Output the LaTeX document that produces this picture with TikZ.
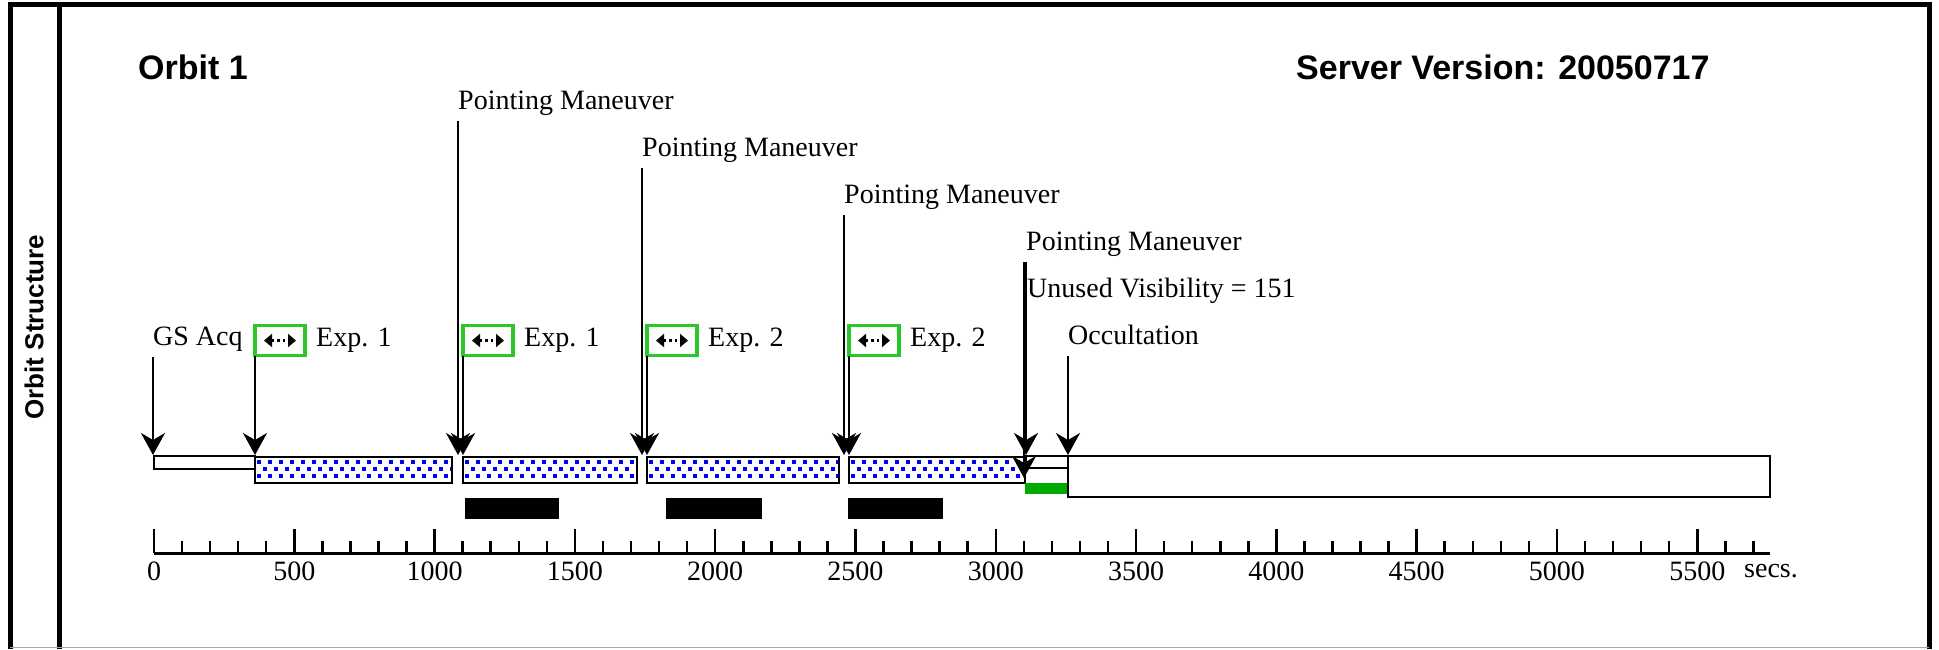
\documentclass[tikz,border=0pt]{standalone}
\usepackage{fontspec}
\setmainfont{Liberation Serif}
\setsansfont{Liberation Sans}
\usetikzlibrary{arrows.meta, positioning}
\definecolor{boxgreen}{RGB}{40,200,40}
\definecolor{occgreen}{RGB}{0,170,0}
\definecolor{dotblue}{RGB}{0,0,255}

% exposure bar: white, blue dot grid, black border (x from #1 to #2)
\newcommand{\expbar}[2]{%
  \fill[white] (#1,457) rectangle (#2,483);
  \begin{scope}
    \clip (#1,457) rectangle (#2,483);
    \foreach \dx in {0,11,...,220} {
      \fill[dotblue] (#1+\dx+2,460) rectangle ++(4.2,4.2);
      \fill[dotblue] (#1+\dx+7.5,467) rectangle ++(4.2,4.2);
      \fill[dotblue] (#1+\dx+2,474) rectangle ++(4.2,4.2);
    }
  \end{scope}
  \draw[line width=2.5pt] (#1,457) rectangle (#2,483);}

\begin{document}
\begin{tikzpicture}[x=1pt, y=-1pt,
  lbl/.style={font=\fontsize{28pt}{30pt}\selectfont, inner sep=0pt},
  ttl/.style={font=\sffamily\bfseries\fontsize{34pt}{38pt}\selectfont, inner sep=0pt},
  xbox/.style={draw=boxgreen, line width=3.5pt, minimum width=50pt, minimum height=30pt,
               inner sep=0pt, outer sep=0pt, anchor=south west},
  bar/.style={draw=black, line width=2.5pt, fill=white},
  mk/.style={-{Stealth[length=22pt, width=24pt, inset=7pt]}, line width=2.5pt},
  dbl/.style={{Triangle[length=8pt, width=13pt]}-{Triangle[length=8pt, width=13pt]},
              line width=3pt, dash pattern=on 2.5pt off 3pt},
  tick/.style={line width=2.5pt}
]
\useasboundingbox (0,0) rectangle (1939,649);
% frame
\draw[line width=5pt] (10.5,649) -- (10.5,4.5) -- (1929,4.5) -- (1929,649);
\draw[line width=5pt] (59.5,4.5) -- (59.5,649);
\draw[black!35, line width=1.5pt] (10,647.5) -- (1929,647.5);
\node[ttl, font=\sffamily\bfseries\fontsize{26pt}{30pt}\selectfont, rotate=90] (side) at (34,327) {Orbit Structure};
\node[ttl, anchor=west] (orbit) at (138,67) {Orbit 1};
\node[ttl, anchor=west] (srv)   at (1296,67) {Server Version: 20050717};

% timeline bars
\draw[bar] (154,456) rectangle (255,469);
\expbar{255}{452}
\expbar{463}{637}
\expbar{647}{839}
\expbar{849}{1025}
\draw[bar] (1026,456) rectangle (1068,468);
\fill[occgreen] (1025,483) rectangle (1067,494);
\draw[bar] (1068,456) rectangle (1770,497);
\fill (465,498) rectangle (559,519);
\fill (666,498) rectangle (762,519);
\fill (848,498) rectangle (943,519);

% event labels
\coordinate (tipline) at (0,455);
\node[lbl, anchor=base west] (gs)  at (153,345)  {GS Acq};
\node[lbl, anchor=base west] (pm1) at (458,109)  {Pointing Maneuver};
\node[lbl, anchor=base west] (pm2) at (642,156)  {Pointing Maneuver};
\node[lbl, anchor=base west] (pm3) at (844,203)  {Pointing Maneuver};
\node[lbl, anchor=base west] (pm4) at (1026,250) {Pointing Maneuver};
\node[lbl, anchor=base west] (uv)  at (1027,297) {Unused Visibility = 151};
\node[lbl, anchor=base west] (occ) at (1068,344) {Occultation};
\node[xbox] (e1) at (255,355.5) {};
\node[xbox] (e2) at (463,355.5) {};
\node[xbox] (e3) at (647,355.5) {};
\node[xbox] (e4) at (849,355.5) {};
\node[lbl, right=11pt of e1] (x1) {Exp. 1};
\node[lbl, right=11pt of e2] (x2) {Exp. 1};
\node[lbl, right=11pt of e3] (x3) {Exp. 2};
\node[lbl, right=11pt of e4] (x4) {Exp. 2};
\foreach \e in {e1, e2, e3, e4}
  \draw[dbl] ([xshift=-16pt]\e.center) -- ([xshift=16pt]\e.center);

% markers
\foreach \n in {gs, pm1, pm2, pm3, pm4, occ}
  \draw[mk] ([yshift=-12pt]\n.base west) -- (\n.base west |- tipline);
\foreach \e in {e1, e2, e3, e4}
  \draw[mk] (\e.south west) -- (\e.south west |- tipline);
\coordinate (uvtip) at (1024,478);
\draw[mk] ([xshift=-2pt, yshift=-12pt]pm4.base west) -- (uvtip);

% time axis
\coordinate (ax0) at (154,553);
\coordinate (ax1) at (1770,553);
\draw[line width=3pt] (ax0) -- (ax1);
\foreach \t in {0,100,...,5700}
  \draw[tick] (154+0.2806*\t,553) -- ++(0,-12);
\foreach \t in {0,500,...,5500} {
  \draw[tick] (154+0.2806*\t,553) -- ++(0,-24);
  \node[lbl] (t\t) at (154+0.2806*\t,571) {\t};
}
\node[lbl, anchor=west] (secs) at (1744,571) {secs.};
\end{tikzpicture}
\end{document}
